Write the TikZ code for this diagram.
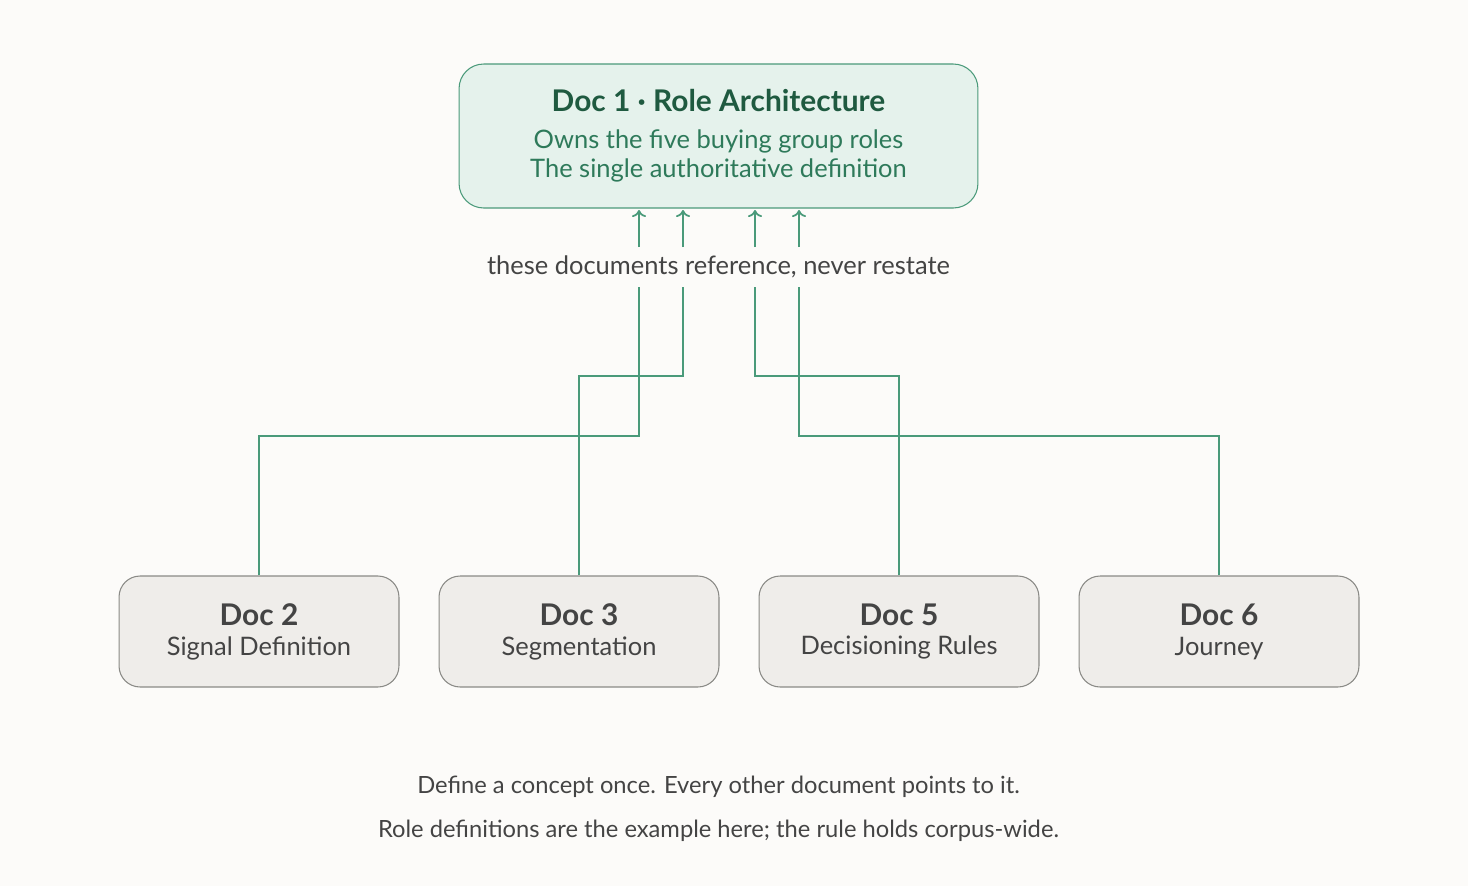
\documentclass[tikz,border=0pt]{standalone}
\usepackage{fontspec}
\setmainfont{Lato}
\usetikzlibrary{positioning,arrows.meta}
\definecolor{bgpaper}{HTML}{FCFBF9}
\definecolor{leaf}{HTML}{4A9A7A}
\definecolor{leaffill}{HTML}{E5F2EC}
\definecolor{leafdark}{HTML}{1F5A40}
\definecolor{leafmid}{HTML}{2E7A5A}
\definecolor{stone}{HTML}{8A8A86}
\definecolor{stonefill}{HTML}{EFEDEA}
\definecolor{ink}{HTML}{444444}
\newcommand{\headfont}{\fontsize{17}{20}\selectfont\bfseries}
\newcommand{\subfont}{\fontsize{14.5}{17}\selectfont\mdseries}
\tikzset{
  docbox/.style={draw=stone,fill=stonefill,rounded corners=12pt,minimum width=5.6cm,minimum height=2.22cm,align=center,text=ink,line width=0.6pt},
  link/.style={draw=leaf,line width=1pt},
  pointer/.style={link,-{To[length=4pt,width=8pt]}}
}
\begin{document}
\begin{tikzpicture}[x=0.02cm,y=-0.02cm]
\fill[bgpaper] (0,0) rectangle (1468,886);
\useasboundingbox (0,0) rectangle (1468,886);

\node[draw=leaf,fill=leaffill,rounded corners=14pt,minimum width=10.38cm,minimum height=2.88cm,line width=0.6pt,align=center,text=leafdark] (doc1) at (718.5,136)
  {\headfont Doc 1 · Role Architecture\\[9pt]
   \subfont\color{leafmid}Owns the five buying group roles\\[2pt] \subfont\color{leafmid}The single authoritative definition};

\node[docbox] (doc2) at (259,631.5) {\headfont Doc 2\\[5pt] \subfont Signal Definition};
\node[docbox] (doc3) at (579,631.5) {\headfont Doc 3\\[5pt] \subfont Segmentation};
\node[docbox] (doc5) at (899,631.5) {\headfont Doc 5\\[5pt] \subfont Decisioning Rules};
\node[docbox] (doc6) at (1219,631.5) {\headfont Doc 6\\[5pt] \subfont Journey};

\node[text=ink,font=\subfont] (refnote) at (718.5,267) {these documents reference, never restate};

% wires up from the documents
\coordinate (w2) at (639,287);
\coordinate (w3) at (683,287);
\coordinate (w5) at (755,287);
\coordinate (w6) at (799,287);
\draw[link] (doc2.north) |- (639,436) -- (w2);
\draw[link] (doc3.north) |- (683,376) -- (w3);
\draw[link] (doc5.north) |- (755,376) -- (w5);
\draw[link] (doc6.north) |- (799,436) -- (w6);

% arrows into doc 1
\foreach \x in {639,683,755,799}
  \draw[pointer] (\x,247) -- (\x,210);

\node[text=ink,font=\fontsize{13.5}{15}\selectfont] (rule1) at (718.5,787) {Define a concept once. Every other document points to it.};
\node[text=ink,font=\fontsize{13.5}{15}\selectfont] (rule2) at (718.5,831) {Role definitions are the example here; the rule holds corpus-wide.};
\end{tikzpicture}
\end{document}
